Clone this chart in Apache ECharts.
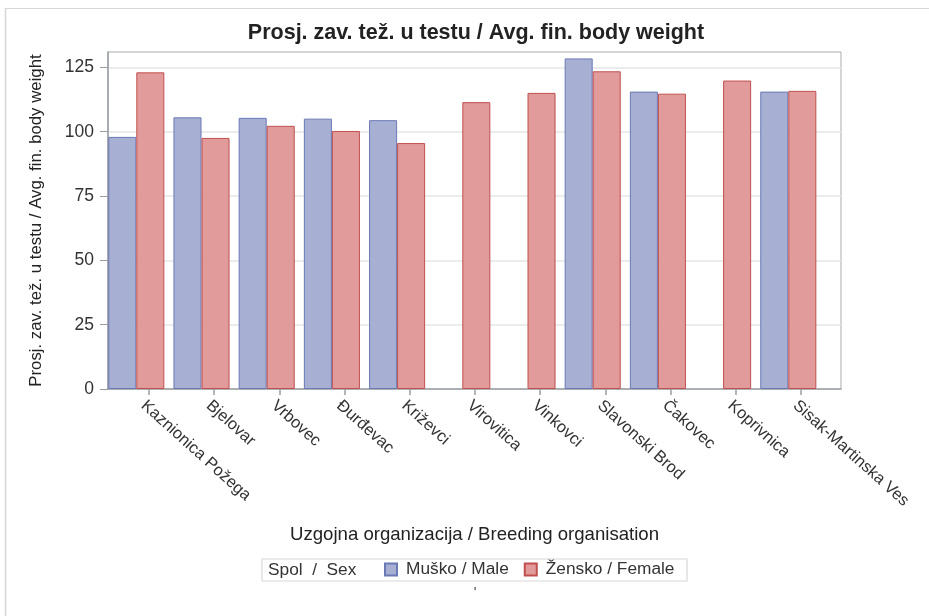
<!DOCTYPE html>
<html>
<head>
<meta charset="utf-8">
<script src="https://cdn.jsdelivr.net/npm/echarts@6/dist/echarts.min.js"></script>
<style>
  html, body { margin: 0; padding: 0; background: #fff; }
  #main { width: 929px; height: 616px; }
</style>
</head>
<body>
<div id="main"></div>
<script>
// podaci procitani sa slike
var categories = ['Kaznionica Požega', 'Bjelovar', 'Vrbovec', 'Đurđevac', 'Križevci', 'Virovitica',
  'Vinkovci', 'Slavonski Brod', 'Čakovec', 'Koprivnica', 'Sisak-Martinska Ves'];
var male = [98, 105.6, 105.4, 105.1, 104.5, null, null, 128.5, 115.6, null, 115.6];
var female = [123.1, 97.6, 102.3, 100.3, 95.6, 111.5, 115.1, 123.5, 114.8, 119.9, 115.9];
var yTicks = [0, 25, 50, 75, 100, 125];

var FONT = 'Liberation Sans, Arial, sans-serif';

var myChart = echarts.init(document.getElementById('main'));

var option = {
  animation: false,
  textStyle: { fontFamily: FONT },
  // 0 = okvir i y os, 1 = stupci, 2 = oznake kategorija
  grid: [
    { left: 108, top: 52, width: 733, height: 337, show: true, borderColor: '#a8abae', borderWidth: 1, outerBoundsMode: 'none' },
    { left: 103.7, top: 52, width: 717.2, height: 337, outerBoundsMode: 'none' },
    { left: 116.4, top: 52, width: 717.2, height: 337, outerBoundsMode: 'none' }
  ],
  xAxis: [
    {
      gridIndex: 0, type: 'category', data: categories,
      axisLine: { show: true, lineStyle: { color: '#9a9ea2', width: 1.5 } },
      axisTick: { show: false }, axisLabel: { show: false }, splitLine: { show: false }
    },
    { gridIndex: 1, type: 'category', data: categories, show: false },
    {
      gridIndex: 2, type: 'category', data: categories,
      axisLine: { show: false },
      axisTick: { show: true, alignWithLabel: true, length: 6, lineStyle: { color: '#9a9ea2', width: 1.5 } },
      axisLabel: { rotate: -42, margin: 8, fontSize: 16.5, color: '#333', fontFamily: FONT, verticalAlign: 'top' }
    }
  ],
  yAxis: [
    {
      gridIndex: 0, type: 'value', min: 0, max: 131, interval: 25,
      name: 'Prosj. zav. tež. u testu / Avg. fin. body weight',
      nameLocation: 'middle', nameGap: 63,
      nameTextStyle: { fontSize: 16.8, color: '#222', fontFamily: FONT },
      axisLine: { show: true, lineStyle: { color: '#9a9ea2', width: 1.5 } },
      axisTick: { show: true, length: 8, customValues: yTicks, lineStyle: { color: '#9a9ea2' } },
      axisLabel: { margin: 14, fontSize: 17.5, color: '#333', customValues: yTicks, fontFamily: FONT },
      splitLine: { show: true, lineStyle: { color: '#e6e6e6', width: 1.5 } }
    },
    { gridIndex: 1, type: 'value', min: 0, max: 131, show: false, splitLine: { show: false } },
    { gridIndex: 2, type: 'value', min: 0, max: 131, show: false, splitLine: { show: false } }
  ],
  legend: {
    left: 384, top: 561, padding: 0,
    icon: 'rect', itemWidth: 12, itemHeight: 12, itemGap: 15,
    textStyle: { fontSize: 17.3, color: '#333', fontFamily: FONT, padding: [0, 0, 0, 4] },
    data: ['Muško / Male', 'Žensko / Female']
  },
  series: [
    {
      name: 'Muško / Male', type: 'bar', xAxisIndex: 1, yAxisIndex: 1,
      barGap: '0%', barCategoryGap: '14%',
      itemStyle: { color: '#a7afd2', borderColor: '#6b79b5', borderWidth: 1 },
      data: male
    },
    {
      name: 'Žensko / Female', type: 'bar', xAxisIndex: 1, yAxisIndex: 1,
      barGap: '0%', barCategoryGap: '14%',
      itemStyle: { color: '#e29b9b', borderColor: '#c0504f', borderWidth: 1 },
      data: female
    }
  ],
  graphic: [
    // vanjski okvir (samo gore i lijevo vidljivo)
    { type: 'line', shape: { x1: 5, y1: 8.5, x2: 929, y2: 8.5 }, style: { stroke: '#d6d6d6', lineWidth: 1.2 } },
    { type: 'line', shape: { x1: 5.5, y1: 8, x2: 5.5, y2: 616 }, style: { stroke: '#d6d6d6', lineWidth: 1.5 } },
    {
      type: 'text', x: 476, y: 33,
      style: { text: 'Prosj. zav. tež. u testu / Avg. fin. body weight', font: 'bold 21.5px ' + FONT, fill: '#222', textAlign: 'center', textVerticalAlign: 'middle' }
    },
    {
      type: 'text', x: 474.5, y: 535,
      style: { text: 'Uzgojna organizacija / Breeding organisation', font: '18.6px ' + FONT, fill: '#222', textAlign: 'center', textVerticalAlign: 'middle' }
    },
    // okvir legende
    { type: 'rect', shape: { x: 262, y: 559, width: 425, height: 22 }, style: { fill: 'none', stroke: '#d8d8d8', lineWidth: 1.2 } },
    {
      type: 'text', x: 268, y: 570,
      style: { text: 'Spol  /  Sex', font: '17.3px ' + FONT, fill: '#333', textVerticalAlign: 'middle' }
    },
    {
      type: 'text', x: 475, y: 593,
      style: { text: "'", font: '14px ' + FONT, fill: '#444', textAlign: 'center', textVerticalAlign: 'middle' }
    }
  ]
};

myChart.setOption(option);
</script>
</body>
</html>
